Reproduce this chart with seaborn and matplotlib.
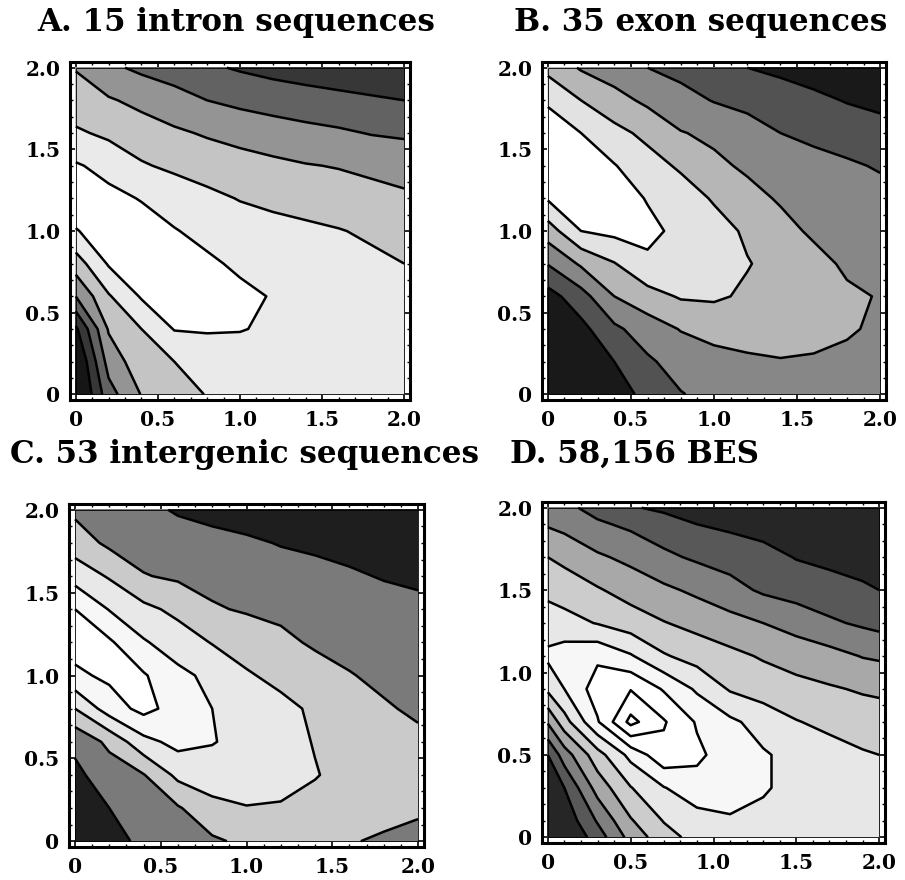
import numpy as np
import matplotlib
matplotlib.use("Agg")
import matplotlib.pyplot as plt
from matplotlib.patches import Rectangle
from matplotlib.ticker import MultipleLocator
import seaborn as sns

sns.set_theme(style="white")
plt.rcParams['font.family'] = ['DejaVu Serif']
plt.rcParams['font.weight'] = 'bold'

# ---------------- data ----------------
grid_std = [0.0, 0.2, 0.4, 0.6, 0.8, 1.0, 1.2, 1.4, 1.6, 1.8, 2.0]
grid_d = [0.0, 0.1, 0.3, 0.5, 0.7, 0.9, 1.1, 1.3, 1.5, 1.7, 1.9, 2.0]

tick_vals = [0, 0.5, 1.0, 1.5, 2.0]
tick_labels = ["0", "0.5", "1.0", "1.5", "2.0"]

titles = ["A. 15 intron sequences", "B. 35 exon sequences",
          "C. 53 intergenic sequences", "D. 58,156 BES"]

# rows: y ascending, columns: x ascending (contour level values)
A_z = [
    [-1.5, 1.6, 3.05, 3.55, 4.05, 4.3, 4.4, 4.45, 4.45, 4.45, 4.45],
    [-1.2, 2.4, 3.6, 4.0, 4.35, 4.5, 4.55, 4.55, 4.55, 4.5, 4.5],
    [-0.2, 3.1, 4.0, 5.05, 5.1, 5.05, 4.85, 4.7, 4.6, 4.5, 4.45],
    [2.0, 3.9, 5.1, 5.3, 5.3, 5.2, 4.95, 4.75, 4.6, 4.5, 4.4],
    [3.5, 5.1, 5.4, 5.35, 5.15, 4.85, 4.65, 4.5, 4.35, 4.2, 4.0],
    [4.95, 5.4, 5.4, 5.05, 4.75, 4.5, 4.35, 4.2, 4.05, 3.85, 3.7],
    [5.5, 5.25, 4.95, 4.6, 4.25, 3.95, 3.75, 3.6, 3.45, 3.3, 3.15],
    [5.1, 4.7, 4.1, 3.8, 3.55, 3.35, 3.2, 3.05, 2.95, 2.8, 2.65],
    [4.15, 3.8, 3.45, 3.15, 2.9, 2.7, 2.5, 2.3, 2.15, 1.95, 1.85],
    [3.4, 3.1, 2.75, 2.4, 2.0, 1.75, 1.55, 1.4, 1.25, 1.12, 1.0],
    [2.95, 2.2, 1.8, 1.5, 1.15, 0.9, 0.7, 0.55, 0.45, 0.35, 0.3],
]
A_levels = [-10, 0, 1, 2, 3, 4, 5, 10]
A_grays = [22, 55, 98, 148, 196, 234, 255]

B_z = [
    [-1.2, -0.4, 0.6, 1.25, 1.95, 2.3, 2.5, 2.6, 2.6, 2.55, 2.5],
    [-0.8, 0.1, 1.0, 1.85, 2.4, 2.7, 2.85, 2.95, 2.9, 2.8, 2.7],
    [-0.3, 0.7, 1.8, 2.5, 3.05, 3.3, 3.4, 3.4, 3.3, 3.1, 2.85],
    [0.6, 1.6, 3.0, 3.6, 4.1, 4.15, 3.85, 3.55, 3.35, 3.15, 2.95],
    [2.05, 3.15, 3.95, 4.85, 4.65, 4.45, 4.05, 3.7, 3.3, 2.85, 2.6],
    [3.5, 5.0, 5.25, 5.2, 4.8, 4.4, 3.85, 3.3, 2.85, 2.65, 2.5],
    [5.1, 5.5, 5.4, 4.95, 4.5, 3.9, 3.3, 2.9, 2.7, 2.5, 2.35],
    [5.6, 5.4, 5.05, 4.4, 3.85, 3.2, 2.85, 2.6, 2.35, 2.15, 1.9],
    [5.4, 5.0, 4.3, 3.75, 3.05, 2.8, 2.45, 2.0, 1.75, 1.5, 1.3],
    [4.9, 4.0, 3.35, 2.8, 2.35, 1.95, 1.7, 1.45, 1.2, 0.95, 0.8],
    [3.7, 2.9, 2.5, 2.0, 1.7, 1.45, 1.0, 0.8, 0.6, 0.45, 0.3],
]
B_levels = [-10, 1, 2, 3, 4, 5, 10]
B_grays = [25, 82, 135, 182, 226, 255]

C_z = [
    [-0.4, 0.6, 1.25, 1.55, 1.85, 2.2, 2.3, 2.2, 2.05, 1.9, 1.8],
    [0.1, 1.0, 1.5, 1.9, 2.7, 2.95, 2.9, 2.7, 2.45, 2.25, 2.1],
    [0.8, 1.45, 1.95, 3.25, 3.55, 3.6, 3.4, 3.05, 2.7, 2.45, 2.3],
    [1.2, 2.25, 3.7, 4.3, 4.05, 3.7, 3.35, 2.95, 2.65, 2.4, 2.2],
    [3.0, 4.5, 5.3, 4.6, 4.0, 3.65, 3.25, 2.85, 2.55, 2.1, 1.85],
    [4.8, 5.2, 5.1, 4.25, 3.75, 3.1, 2.75, 2.45, 2.05, 1.8, 1.6],
    [5.4, 5.15, 4.1, 3.5, 2.95, 2.6, 2.25, 1.85, 1.7, 1.55, 1.45],
    [5.0, 3.95, 3.25, 2.75, 2.1, 1.9, 1.75, 1.6, 1.45, 1.3, 1.2],
    [3.6, 2.9, 2.05, 1.85, 1.7, 1.55, 1.4, 1.25, 1.1, 0.95, 0.85],
    [2.5, 1.8, 1.6, 1.45, 1.3, 1.15, 0.95, 0.85, 0.75, 0.65, 0.55],
    [1.8, 1.6, 1.25, 0.9, 0.7, 0.55, 0.45, 0.35, 0.3, 0.25, 0.2],
]
C_levels = [-10, 1, 2, 3, 4, 5, 10]
C_grays = [30, 122, 202, 232, 247, 255]

D_z = [
    [-1.8, -1.1, 0.5, 2.35, 3.6, 4.35, 4.6, 4.6, 4.5, 4.45, 4.4, 4.4],
    [-1.5, -0.7, 1.1, 2.9, 4.05, 4.6, 4.85, 4.75, 4.6, 4.5, 4.45, 4.4],
    [-1.0, 0.0, 2.4, 3.95, 4.95, 5.6, 5.6, 5.1, 4.7, 4.5, 4.35, 4.3],
    [0.0, 1.5, 3.6, 5.3, 6.7, 6.2, 5.5, 5.1, 4.7, 4.4, 4.1, 4.0],
    [2.1, 3.6, 5.9, 8.3, 7.1, 5.9, 5.2, 4.6, 4.05, 3.75, 3.5, 3.4],
    [4.2, 5.0, 6.5, 6.95, 5.9, 4.85, 3.9, 3.55, 3.3, 3.1, 2.9, 2.85],
    [5.2, 5.5, 5.8, 5.1, 4.1, 3.6, 3.25, 2.9, 2.6, 2.35, 1.95, 1.85],
    [4.5, 4.35, 3.95, 3.5, 3.05, 2.7, 2.35, 2.0, 1.6, 1.15, 0.85, 0.7],
    [3.75, 3.55, 3.1, 2.6, 2.2, 1.8, 1.35, 0.85, 0.6, 0.4, 0.15, 0.0],
    [3.0, 2.75, 2.15, 1.75, 1.2, 0.85, 0.6, 0.35, -0.05, -0.25, -0.4, -0.45],
    [1.9, 1.7, 1.15, 0.8, 0.45, 0.0, -0.2, -0.4, -0.55, -0.65, -0.75, -0.8],
    [1.5, 1.25, 0.65, 0.1, -0.2, -0.4, -0.6, -0.75, -0.9, -1.0, -1.1, -1.15],
]
D_levels = [-10, 0, 1, 2, 3, 4, 5, 6, 7, 8, 20]
D_grays = [38, 88, 128, 168, 204, 231, 247, 255, 255, 255]

# ---------------- layout (styles) ----------------
W, H = 905, 880


def frac_rect(left, top, right, bottom):
    return [left / W, 1 - bottom / H, (right - left) / W, (bottom - top) / H]


panels = [
    dict(title=titles[0], x=grid_std, z=A_z, levels=A_levels, grays=A_grays,
         rect=frac_rect(70, 62, 410, 400), title_pos=(37, 31)),
    dict(title=titles[1], x=grid_std, z=B_z, levels=B_levels, grays=B_grays,
         rect=frac_rect(542, 62, 886, 400), title_pos=(514, 31)),
    dict(title=titles[2], x=grid_std, z=C_z, levels=C_levels, grays=C_grays,
         rect=frac_rect(69, 504, 424, 847), title_pos=(10, 463)),
    dict(title=titles[3], x=grid_d, z=D_z, levels=D_levels, grays=D_grays,
         rect=frac_rect(542, 502, 885, 843), title_pos=(510, 463)),
]

fig = plt.figure(figsize=(W / 100, H / 100), dpi=100)
fig.patch.set_facecolor("white")

for p in panels:
    ax = fig.add_axes(p["rect"])
    xs = np.array(p["x"])
    Z = np.array(p["z"])
    cols = [(g / 255, g / 255, g / 255) for g in p["grays"]]
    ax.contourf(xs, xs, Z, levels=p["levels"], colors=cols)
    ax.contour(xs, xs, Z, levels=p["levels"][1:-1], colors="black",
               linewidths=1.8)
    m = 0.035
    ax.set_xlim(-m, 2 + m)
    ax.set_ylim(-m, 2 + m)
    ax.add_patch(Rectangle((0, 0), 2, 2, fill=False, ec="black", lw=0.6))
    ax.set_xticks(tick_vals, tick_labels)
    ax.set_yticks(tick_vals, tick_labels)
    ax.xaxis.set_minor_locator(MultipleLocator(0.1))
    ax.yaxis.set_minor_locator(MultipleLocator(0.1))
    ax.tick_params(which="both", direction="in", top=True, right=True,
                   bottom=True, left=True, color="black")
    ax.tick_params(which="major", length=4, width=1.2, labelsize=14.5, pad=7)
    ax.tick_params(which="minor", length=2.5, width=1.0)
    for lab in ax.get_xticklabels() + ax.get_yticklabels():
        lab.set_fontweight("bold")
        lab.set_color("black")
    for s in ax.spines.values():
        s.set_visible(True)
        s.set_linewidth(2.2)
        s.set_color("black")
    ax.set_facecolor("white")
    tx, ty = p["title_pos"]
    fig.text(tx / W, 1 - ty / H, p["title"], ha="left", va="baseline",
             fontsize=22.3, fontweight="bold", color="black")

fig.savefig("out.png", dpi=100)
